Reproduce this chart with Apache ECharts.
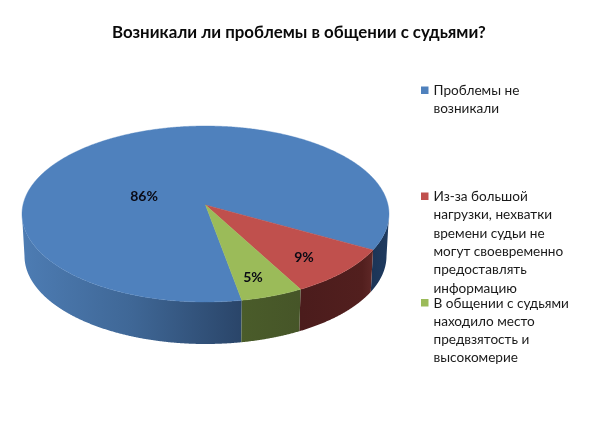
<!DOCTYPE html>
<html><head><meta charset="utf-8">
<style>html,body{margin:0;padding:0;background:#fff}#c{width:595px;height:446px}</style>
<script src="https://cdn.jsdelivr.net/npm/echarts@6/dist/echarts.min.js"></script>
</head><body><div id="c"></div>
<script>
const titleText = 'Возникали ли проблемы в общении с судьями?';
const categories = ['Проблемы не возникали',
  'Из-за большой нагрузки, нехватки времени судьи не могут своевременно предоставлять информацию',
  'В общении с судьями находило место предвзятость и высокомерие'];
const wrappedNames = [
  ['Проблемы не','возникали'],
  ['Из-за большой','нагрузки, нехватки','времени судьи не','могут своевременно','предоставлять','информацию'],
  ['В общении с судьями','находило место','предвзятость и','высокомерие']];
const values = [86, 9, 5];
const sliceOrder = [1, 2, 0];   // drawn clockwise from the start angle

// ----- layout and style, kept apart from the data -----
const FONT = 'Lato, "Noto Sans", sans-serif';
const topColors = ['#4f81bd', '#c0504d', '#9bbb59'];
const sideStops = [
  [[0, '#4d7cb3'], [0.5, '#3f6796'], [1, '#2a4569']],
  [[0, '#4b1c1c'], [0.85, '#521f1e'], [1, '#5f2827']],
  [[0, '#4a5c2a'], [1, '#465528']]
];
const sideRange = [[22, 242], [301, 373], [241, 301]];
const rightBlueStops = [[0, '#1c3557'], [1, '#1f3b60']];
const labelSpots = [[144, 196], [304, 257], [253, 277]];
const legendTops = [81.5, 187.5, 294];
const TOP = {cx: 205.5, cy: 214, rx: 183.5, ry: 88};
const BOT = {cx: 205.5, cy: 256, rx: 181, ry: 88};
const PERSPECTIVE = 0.102;      // shift of the vanishing centre
const START_ANGLE = 29.3;

const total = values.reduce((a, b) => a + b, 0);
function rim(deg, el) {
  const a = deg * Math.PI / 180, e = PERSPECTIVE;
  const x = Math.cos(a), y = Math.sin(a), d = 1 - e * y;
  return [el.cx + el.rx * x * Math.sqrt(1 - e * e) / d, el.cy + el.ry * (y - e) / d];
}
function visible(deg) { return Math.sin(deg * Math.PI / 180) >= PERSPECTIVE; }

function spanOf(idx) {
  let a = START_ANGLE;
  for (const i of sliceOrder) {
    const sweep = values[i] / total * 360;
    if (i === idx) return [a, a + sweep];
    a += sweep;
  }
}
function sideSegments(a0, a1) {
  const segs = []; let cur = null;
  const n = Math.ceil((a1 - a0) / 0.25);
  for (let k = 0; k <= n; k++) {
    const d = a0 + (a1 - a0) * k / n;
    if (visible(d)) { (cur = cur || []).push(d); }
    else if (cur) { segs.push(cur); cur = null; }
  }
  if (cur) segs.push(cur);
  return segs;
}
function renderSlice(idx) {
  return function (params, api) {
    const value = api.value(0);
    const [a0, a1] = spanOf(idx);
    const children = [];
    sideSegments(a0, a1).forEach(seg => {
      const pts = seg.map(d => rim(d, TOP)).concat(seg.slice().reverse().map(d => rim(d, BOT)));
      const onRight = seg[0] > 360;
      const range = onRight ? [373, 389] : sideRange[idx];
      const stops = onRight ? rightBlueStops : sideStops[idx];
      children.push({type: 'polygon', shape: {points: pts}, style: {
        fill: {type: 'linear', x: range[0], y: 0, x2: range[1], y2: 0, global: true,
          colorStops: stops.map(s => ({offset: s[0], color: s[1]}))}}});
    });
    const n = Math.ceil((a1 - a0) / 0.5), top = [[TOP.cx, TOP.cy - TOP.ry * PERSPECTIVE]];
    for (let k = 0; k <= n; k++) top.push(rim(a0 + (a1 - a0) * k / n, TOP));
    children.push({type: 'polygon', shape: {points: top},
      style: {fill: topColors[idx], stroke: topColors[idx], lineWidth: 0.4}});
    children.push({type: 'text', z2: 10, x: labelSpots[idx][0], y: labelSpots[idx][1], style: {
      text: value + '%', align: 'center', verticalAlign: 'middle',
      font: 'bold 14px ' + FONT, fill: '#0a0a14'}});
    return {type: 'group', children};
  };
}

const legends = categories.map((name, i) => {
  const lines = wrappedNames[i].length, h = lines * 18.3;
  return {
    data: [name], left: 421, top: legendTops[i], orient: 'vertical',
    padding: 0, itemGap: 0, itemWidth: 7.5, itemHeight: h, selectedMode: false,
    icon: 'path://M0,0L0,0 M0,5H7.5V12.5H0Z M0,' + h + 'L0,' + h,
    formatter: () => wrappedNames[i].join('\n'),
    textStyle: {fontFamily: FONT, fontSize: 13.6, lineHeight: 18.3, color: '#1a1a1a', padding: [0, 0, 0, 0]},
    itemStyle: {color: topColors[i]}
  };
});

const chart = echarts.init(document.getElementById('c'), null, {renderer: 'canvas'});
chart.setOption({
  animation: false,
  backgroundColor: '#ffffff',
  title: {text: titleText, left: 112, top: 24.5, padding: 0,
    textStyle: {fontFamily: FONT, fontSize: 16.85, fontWeight: 'bold', color: '#0a0a0a'}},
  legend: legends,
  series: categories.map((name, i) => ({
    type: 'custom', name, coordinateSystem: 'none', silent: true,
    itemStyle: {color: topColors[i]},
    data: [[values[i]]], renderItem: renderSlice(i)
  }))
});
</script></body></html>
